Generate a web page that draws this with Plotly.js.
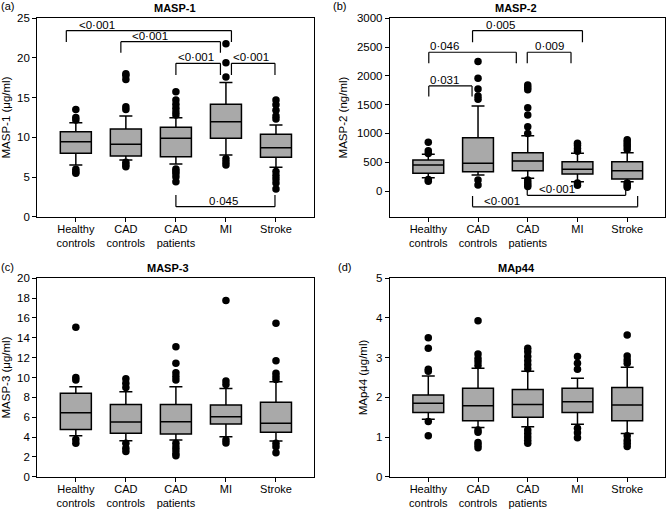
<!DOCTYPE html>
<html>
<head>
<meta charset="utf-8">
<script src="https://cdn.plot.ly/plotly-3.0.1.min.js"></script>
<style>html,body{margin:0;padding:0;background:#fff;}#chart{width:667px;height:509px;}</style>
</head>
<body>
<div id="chart"></div>
<script>
// ---------- data ----------
const categories = ['Healthy controls', 'CAD controls', 'CAD patients', 'MI', 'Stroke'];
const tickLabels = ['Healthy<br>controls', 'CAD<br>controls', 'CAD<br>patients', 'MI', 'Stroke'];

// MASP-1 (µg/ml)
const masp1Q1     = [7.98, 7.65, 7.56, 9.87, 7.48];
const masp1Median = [9.45, 9.12, 9.87, 11.97, 8.70];
const masp1Q3     = [10.7, 11.05, 11.26, 14.16, 10.38];
const masp1Lower  = [6.5, 7.14, 6.64, 7.77, 6.22];
const masp1Upper  = [11.85, 12.7, 12.48, 16.9, 11.55];
const masp1Outliers = [
  [13.5, 12.5, 12.2, 5.97, 5.67, 5.46],
  [18.0, 17.8, 17.3, 13.87, 13.5, 6.85, 6.55, 6.3],
  [15.75, 14.7, 14.16, 13.65, 13.2, 12.8, 6.0, 5.75, 5.46, 5.04, 4.4],
  [21.8, 19.4, 17.6, 7.3, 6.9, 6.5],
  [14.7, 14.1, 13.4, 12.7, 12.3, 5.7, 5.2, 4.75, 4.25, 3.5]
];

// MASP-2 (ng/ml)
const masp2Q1     = [307, 336, 353, 295, 209];
const masp2Median = [452, 481, 521, 377, 353];
const masp2Q3     = [539, 927, 666, 510, 510];
const masp2Lower  = [232, 278, 220, 162, 162];
const masp2Upper  = [637, 1477, 962, 655, 666];
const masp2Outliers = [
  [846, 700, 650, 200, 170],
  [2248, 1958, 1773, 1651, 1593, 190, 104],
  [1842, 1800, 1760, 1448, 1321, 1118, 1000, 190, 150, 110, 80],
  [830, 790, 740, 690, 140, 100],
  [890, 850, 810, 770, 720, 140, 100, 65]
];

// MASP-3 (µg/ml)
const masp3Q1     = [4.77, 4.37, 4.3, 5.31, 4.47];
const masp3Median = [6.45, 5.51, 5.55, 6.05, 5.38];
const masp3Q3     = [8.4, 7.29, 7.29, 7.23, 7.5];
const masp3Lower  = [4.13, 3.63, 3.7, 4.03, 3.6];
const masp3Upper  = [9.08, 8.57, 9.08, 8.9, 9.58];
const masp3Outliers = [
  [15.06, 10.0, 9.75, 3.76, 3.36],
  [9.88, 9.41, 9.0, 3.36, 2.86, 2.55],
  [13.1, 11.43, 10.49, 10.1, 9.75, 3.36, 3.0, 2.69, 2.35, 2.12],
  [17.75, 9.65, 9.3, 3.7, 3.4],
  [15.46, 11.7, 10.42, 10.1, 9.8, 3.36, 3.03, 2.42]
];

// MAp44 (µg/ml)
const map44Q1     = [1.62, 1.41, 1.5, 1.62, 1.41];
const map44Median = [1.85, 1.79, 1.82, 1.89, 1.81];
const map44Q3     = [2.06, 2.23, 2.2, 2.23, 2.25];
const map44Lower  = [1.45, 1.24, 1.26, 1.32, 1.09];
const map44Upper  = [2.54, 2.73, 2.66, 2.48, 2.76];
const map44Outliers = [
  [3.5, 3.24, 2.71, 2.66, 1.39, 1.03],
  [3.93, 3.09, 2.98, 2.9, 2.8, 1.18, 1.12, 0.86, 0.8, 0.73],
  [3.24, 3.15, 3.03, 2.92, 2.82, 2.72, 1.18, 1.09, 1.0, 0.92, 0.84],
  [3.03, 2.86, 2.71, 1.22, 1.11, 0.98],
  [3.57, 3.04, 2.94, 2.86, 1.03, 0.92, 0.84, 0.76]
];

// significance comparisons: p-value labels
const masp1Pvalues = ['<0·001', '<0·001', '<0·001', '<0·001', '0·045'];
const masp2Pvalues = ['0·005', '0·046', '0·031', '0·009', '<0·001', '<0·001'];

// ---------- layout helpers ----------
const W = 667, H = 509;
const FONT = 'Liberation Sans, Arial, Helvetica, sans-serif';
const px = v => v / W;
const py = v => 1 - v / H;

// bracket geometry (category-index units on x, data units on y)
const masp1Brackets = [
  {x0: -0.19, x1: 3.11, y: 23.45, tip: 22.0, lx: 0.42},
  {x0: 0.9,  x1: 2.89, y: 22.06, tip: 20.65, lx: 1.49},
  {x0: 2.0,  x1: 2.89, y: 19.33, tip: 17.86, lx: 2.40},
  {x0: 3.11, x1: 3.98, y: 19.33, tip: 17.86, lx: 3.50},
  {x0: 2.0,  x1: 3.98, y: 1.26,  tip: 2.73,  lx: 2.95}
];
const masp2Brackets = [
  {x0: 0.89, x1: 3.10, y: 2787, tip: 2584, lx: 1.46},
  {x0: 0.01, x1: 1.77, y: 2410, tip: 2219, lx: 0.32},
  {x0: 0.01, x1: 0.88, y: 1825, tip: 1640, lx: 0.32},
  {x0: 1.99, x1: 2.87, y: 2410, tip: 2219, lx: 2.43},
  {x0: 1.99, x1: 3.97, y: -75,  tip: 75,   lx: 2.59},
  {x0: 0.89, x1: 4.21, y: -275, tip: -87,  lx: 1.49}
];

const panels = [
  {key: '', q1: masp1Q1, med: masp1Median, q3: masp1Q3, lo: masp1Lower, hi: masp1Upper, out: masp1Outliers,
   xdom: [px(37.3), px(314)], ydom: [py(216.7), py(18.3)], yrange: [0, 25], dtick: 5, ytitle: 'MASP-1 (μg/ml)',
   title: 'MASP-1', letter: '(a)', tx: 175, ty: 7.5, lx: 7, brackets: masp1Brackets, pv: masp1Pvalues},
  {key: '2', q1: masp2Q1, med: masp2Median, q3: masp2Q3, lo: masp2Lower, hi: masp2Upper, out: masp2Outliers,
   xdom: [px(390), px(665)], ydom: [py(216.7), py(18.3)], yrange: [-446, 3000], dtick: 500, ytitle: 'MASP-2 (ng/ml)',
   title: 'MASP-2', letter: '(b)', tx: 516, ty: 7.5, lx: 339, brackets: masp2Brackets, pv: masp2Pvalues},
  {key: '3', q1: masp3Q1, med: masp3Median, q3: masp3Q3, lo: masp3Lower, hi: masp3Upper, out: masp3Outliers,
   xdom: [px(37.3), px(314)], ydom: [py(476.7), py(278.3)], yrange: [0, 20], dtick: 2, ytitle: 'MASP-3 (μg/ml)',
   title: 'MASP-3', letter: '(c)', tx: 168, ty: 267.5, lx: 7, brackets: [], pv: []},
  {key: '4', q1: map44Q1, med: map44Median, q3: map44Q3, lo: map44Lower, hi: map44Upper, out: map44Outliers,
   xdom: [px(390), px(665)], ydom: [py(476.7), py(278.3)], yrange: [0, 5], dtick: 1, ytitle: 'MAp44 (μg/ml)',
   title: 'MAp44', letter: '(d)', tx: 516, ty: 267.5, lx: 344, brackets: [], pv: []}
];

const traces = [];
const layout = {
  width: W, height: H,
  margin: {l: 0, r: 0, t: 0, b: 0},
  paper_bgcolor: '#fff', plot_bgcolor: '#fff',
  showlegend: false,
  font: {family: FONT, size: 11, color: '#000'},
  shapes: [], annotations: []
};

const idx = categories.map((c, i) => i);

panels.forEach(p => {
  const xa = 'x' + p.key, ya = 'y' + p.key;
  traces.push({
    type: 'box', xaxis: xa, yaxis: ya,
    x: idx, q1: p.q1, median: p.med, q3: p.q3, lowerfence: p.lo, upperfence: p.hi,
    boxpoints: false, width: 0.62, whiskerwidth: 0.42,
    fillcolor: '#a9a9a9', line: {color: '#000', width: 1.5},
    hoverinfo: 'skip'
  });
  const ox = [], oy = [];
  p.out.forEach((arr, i) => arr.forEach(v => { ox.push(i); oy.push(v); }));
  traces.push({
    type: 'scatter', mode: 'markers', xaxis: xa, yaxis: ya,
    x: ox, y: oy, marker: {color: '#000', size: 7.5}, hoverinfo: 'skip'
  });

  layout['xaxis' + p.key] = {
    domain: p.xdom, anchor: ya, range: [-0.77, 4.76],
    tickvals: idx, ticktext: tickLabels,
    showline: true, mirror: true, linecolor: '#000', linewidth: 1.2,
    ticks: 'outside', ticklen: 4, tickcolor: '#000', tickwidth: 1,
    ticklabelstandoff: -2,
    showgrid: false, zeroline: false,
    tickfont: {family: FONT, size: 11, color: '#000'}
  };
  layout['yaxis' + p.key] = {
    domain: p.ydom, anchor: xa, range: p.yrange, dtick: p.dtick, tick0: 0,
    showline: true, mirror: true, linecolor: '#000', linewidth: 1.2,
    ticks: 'outside', ticklen: 4, tickcolor: '#000', tickwidth: 1,
    showgrid: false, zeroline: false,
    tickfont: {family: FONT, size: 11.5, color: '#000'},
    title: {text: p.ytitle, font: {family: FONT, size: 11.5, color: '#000'}, standoff: 6}
  };

  layout.annotations.push({
    xref: 'paper', yref: 'paper', x: px(p.tx), y: py(p.ty), xanchor: 'center', yanchor: 'middle',
    text: '<b>' + p.title + '</b>', showarrow: false, font: {family: FONT, size: 11, color: '#000'}
  });
  layout.annotations.push({
    xref: 'paper', yref: 'paper', x: px(p.lx), y: py(p.ty - 1), xanchor: 'center', yanchor: 'middle',
    text: p.letter, showarrow: false, font: {family: FONT, size: 11, color: '#000'}
  });

  p.brackets.forEach((b, i) => {
    const ln = {color: '#000', width: 1.2};
    layout.shapes.push({type: 'line', xref: xa, yref: ya, x0: b.x0, x1: b.x1, y0: b.y, y1: b.y, line: ln});
    layout.shapes.push({type: 'line', xref: xa, yref: ya, x0: b.x0, x1: b.x0, y0: b.y, y1: b.tip, line: ln});
    layout.shapes.push({type: 'line', xref: xa, yref: ya, x0: b.x1, x1: b.x1, y0: b.y, y1: b.tip, line: ln});
    layout.annotations.push({
      xref: xa, yref: ya, x: b.lx, y: b.y, xanchor: 'center', yanchor: 'bottom',
      text: p.pv[i], showarrow: false, borderpad: 0, yshift: -1,
      font: {family: FONT, size: 11.5, color: '#000'}
    });
  });
});

Plotly.newPlot('chart', traces, layout, {staticPlot: true, displayModeBar: false});
</script>
</body>
</html>
